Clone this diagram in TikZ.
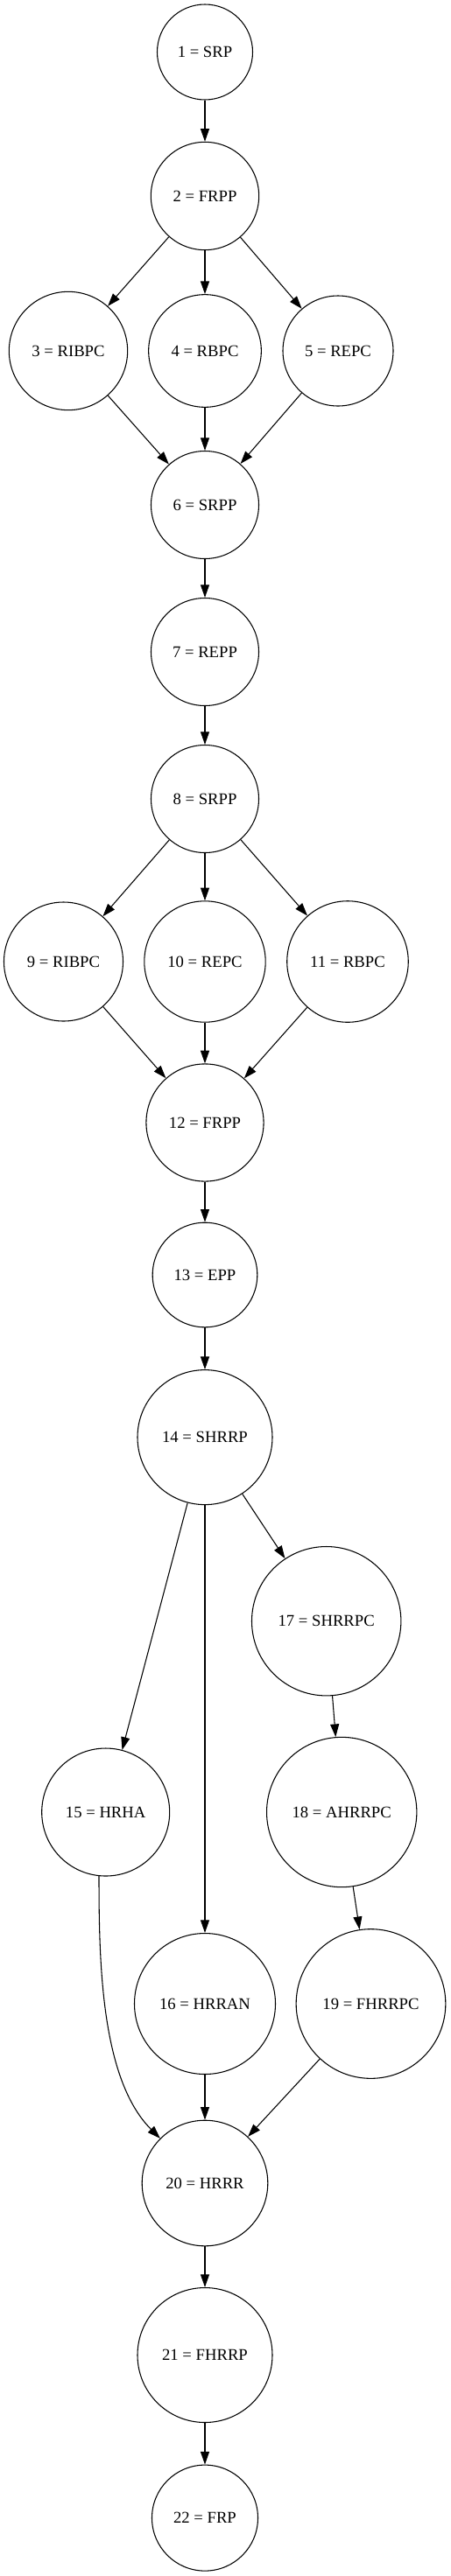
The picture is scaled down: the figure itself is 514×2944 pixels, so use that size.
\documentclass[tikz,border=0pt]{standalone}
\usepackage{fontspec}
\setmainfont{Liberation Serif}
\usepackage{tikz}
\usetikzlibrary{arrows}
\usetikzlibrary{arrows.meta}

\begin{document}
\begin{tikzpicture}[x=0.75pt,y=-0.75pt]
\tikzset{>={Triangle[width=7.5pt,length=11pt]}}
\tikzstyle{stage} =[circle, draw, thick, inner sep=0pt, font=\fontsize{14}{16}\selectfont]

\useasboundingbox (0,0) rectangle (514,2944);

\node[stage,minimum size=81.75pt](v1) at (234,59.5){1 = SRP};
\node[stage,minimum size=92.5pt](v2) at (234,224){2 = FRPP};
\node[stage,minimum size=101.5pt](v3) at (78,401){3 = RIBPC};
\node[stage,minimum size=96.5pt](v4) at (234,401){4 = RBPC};
\node[stage,minimum size=94.5pt](v5) at (386,401){5 = REPC};
\node[stage,minimum size=92.25pt](v6) at (234,577){6 = SRPP};
\node[stage,minimum size=92.25pt](v7) at (234,745){7 = REPP};
\node[stage,minimum size=92.25pt](v8) at (234,913){8 = SRPP};
\node[stage,minimum size=102pt](v9) at (72.5,1099){9 = RIBPC};
\node[stage,minimum size=103.8pt](v10) at (234,1099){10 = REPC};
\node[stage,minimum size=103.9pt](v11) at (397,1099){11 = RBPC};
\node[stage,minimum size=100.6pt](v12) at (234,1283){12 = FRPP};
\node[stage,minimum size=89.7pt](v13) at (234,1457){13 = EPP};
\node[stage,minimum size=115.5pt](v14) at (234,1642.6){14 = SHRRP};
\node[stage,minimum size=109.5pt](v15) at (120.7,2071){15 = HRHA};
\node[stage,minimum size=120.75pt](v16) at (234,2290){16 = HRRAN};
\node[stage,minimum size=127.8pt](v17) at (372.7,1852.7){17 = SHRRPC};
\node[stage,minimum size=128.5pt](v18) at (390.2,2071){18 = AHRRPC};
\node[stage,minimum size=128pt](v19) at (423.5,2290){19 = FHRRPC};
\node[stage,minimum size=107.7pt](v20) at (234,2495){20 = HRRR};
\node[stage,minimum size=115.5pt](v21) at (234,2691.5){21 = FHRRP};
\node[stage,minimum size=90.75pt](v22) at (234,2877.6){22 = FRP};

\draw [->,thick] (v1) to (v2);
\draw [->,thick] (v2) to (v3);
\draw [->,thick] (v2) to (v4);
\draw [->,thick] (v2) to (v5);
\draw [->,thick] (v3) to (v6);
\draw [->,thick] (v4) to (v6);
\draw [->,thick] (v5) to (v6);
\draw [->,thick] (v6) to (v7);
\draw [->,thick] (v7) to (v8);
\draw [->,thick] (v8) to (v9);
\draw [->,thick] (v8) to (v10);
\draw [->,thick] (v8) to (v11);
\draw [->,thick] (v9) to (v12);
\draw [->,thick] (v10) to (v12);
\draw [->,thick] (v11) to (v12);
\draw [->,thick] (v12) to (v13);
\draw [->,thick] (v13) to (v14);
\draw [->,thick] (v14) to (v15);
\draw [->,thick] (v14) to (v16);
\draw [->,thick] (v14) to (v17);
\draw [->,thick] (v17) to (v18);
\draw [->,thick] (v18) to (v19);
\draw [->,thick] (v15.264) to [out=-90,in=135,looseness=0.8] (v20);
\draw [->,thick] (v16) to (v20);
\draw [->,thick] (v19) to (v20);
\draw [->,thick] (v20) to (v21);
\draw [->,thick] (v21) to (v22);
\end{tikzpicture}
\end{document}
